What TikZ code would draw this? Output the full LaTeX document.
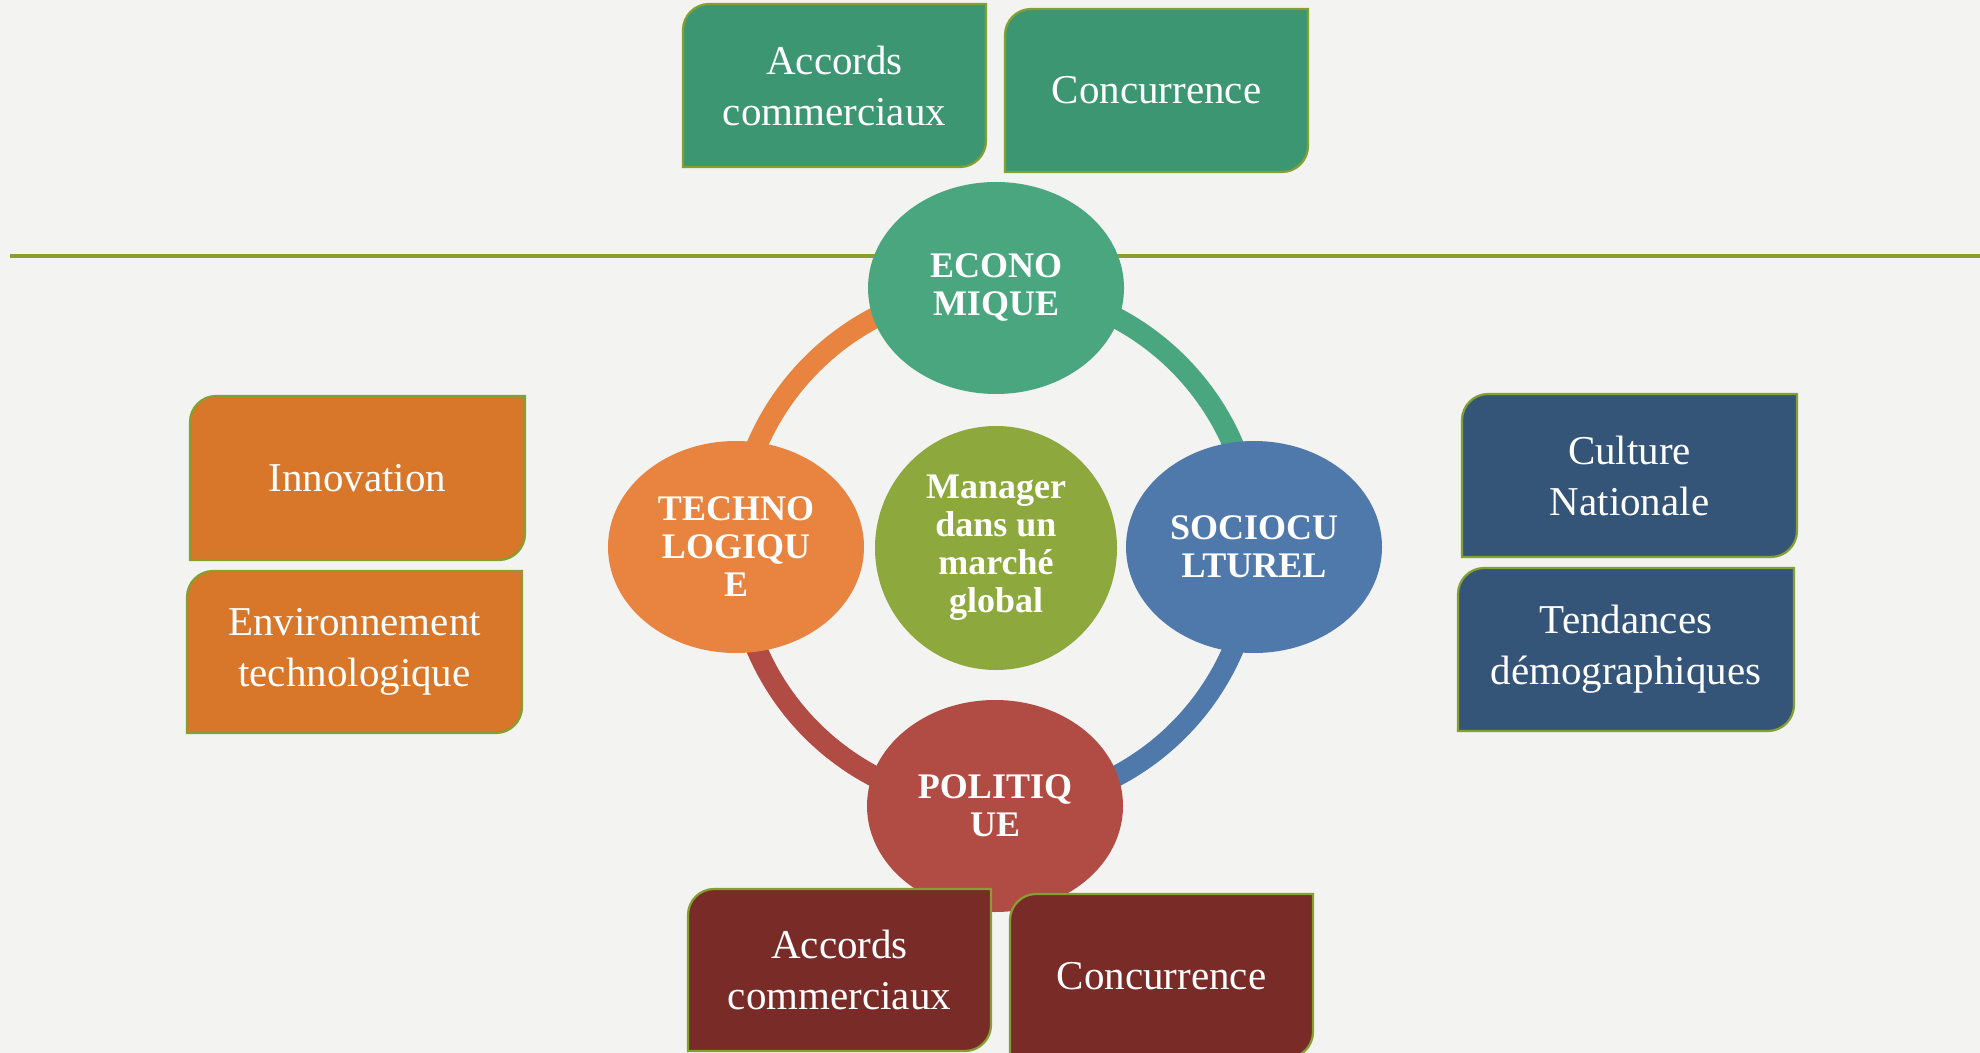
\documentclass[tikz,border=0pt]{standalone}
\usepackage{fontspec}
\setmainfont{Liberation Serif}
\usetikzlibrary{shapes.geometric}
\pgfdeclarelayer{bglayer}
\pgfdeclarelayer{ringlayer}
\pgfsetlayers{bglayer,ringlayer,main}
\definecolor{bgcol}{HTML}{F3F3F1}
\definecolor{edgecol}{HTML}{84A030}
\definecolor{linecol}{HTML}{8C9E2E}
\definecolor{boxgreen}{HTML}{3D9672}
\definecolor{ellgreen}{HTML}{4AA67E}
\definecolor{boxorange}{HTML}{D8762A}
\definecolor{ellorange}{HTML}{E8843F}
\definecolor{boxblue}{HTML}{345478}
\definecolor{ellblue}{HTML}{5079AB}
\definecolor{boxred}{HTML}{792B27}
\definecolor{ellred}{HTML}{B14C45}
\definecolor{centercol}{HTML}{8DA83C}
\tikzset{
  boxshape/.style={draw=edgecol, line width=1.1pt},
  boxtext/.style={text=white, align=center, inner sep=0pt, font=\fontsize{20.5}{25.5}\selectfont},
  factor/.style={shape=ellipse, inner sep=0pt, minimum width=128pt, minimum height=106pt, text=white, align=center, font=\bfseries\fontsize{18}{19}\selectfont},
  ring/.style={line width=10.5pt},
}
\newcommand{\SideBox}[7]{%
  \path[boxshape, fill=#6] (#2,#5) -- (#2,#3+26) .. controls (#2,#3+11.7) and (#2+11.7,#3) .. (#2+26,#3) -- (#4,#3) -- (#4,#5-26) .. controls (#4,#5-11.7) and (#4-11.7,#5) .. (#4-26,#5) -- cycle;
  \node[boxtext] (#1) at ({(#2+#4)/2},{(#3+#5)/2}) {#7};
}
\begin{document}
\begin{tikzpicture}[x=0.5pt,y=-0.5pt]
\clip (0,0) rectangle (1980,1053);
\begin{pgfonlayer}{bglayer}
  \fill[bgcol] (0,0) rectangle (1980,1053);
  \draw[linecol, line width=1.6pt] (10,256) -- (1980,256);
\end{pgfonlayer}

% factor ellipses
\node[factor, fill=ellgreen] (eco) at (996,288) {ECONO\\MIQUE};
\node[factor, fill=ellorange] (tech) at (736,547) {TECHNO\\LOGIQU\\E};
\node[factor, fill=ellblue] (soc) at (1254,547) {SOCIOCU\\LTUREL};
\node[factor, fill=ellred] (pol) at (995,806) {POLITIQ\\UE};
\node[factor, fill=centercol, minimum width=121pt, minimum height=122pt] (man) at (996,548) {Manager\\dans un\\marché\\global};

% ring
\begin{pgfonlayer}{ringlayer}
  \draw[ring, ellgreen] (eco.center) to[bend left=45] (soc.center);
  \draw[ring, ellblue] (soc.center) to[bend left=45] (pol.center);
  \draw[ring, ellred] (pol.center) to[bend left=45] (tech.center);
  \draw[ring, ellorange] (tech.center) to[bend left=45] (eco.center);
\end{pgfonlayer}

% boxes
\SideBox{ecoA}{683}{4}{986}{167}{boxgreen}{Accords\\commerciaux}
\SideBox{ecoB}{1005}{9}{1308}{172}{boxgreen}{Concurrence}
\SideBox{techA}{190}{396}{525}{560}{boxorange}{Innovation}
\SideBox{techB}{187}{571}{522}{733}{boxorange}{Environnement\\technologique}
\SideBox{socA}{1462}{394}{1797}{557}{boxblue}{Culture\\Nationale}
\SideBox{socB}{1458}{568}{1794}{731}{boxblue}{Tendances\\démographiques}
\SideBox{polA}{688}{889}{991}{1051}{boxred}{Accords\\commerciaux}
\SideBox{polB}{1010}{894}{1313}{1058}{boxred}{Concurrence}
\end{tikzpicture}
\end{document}
